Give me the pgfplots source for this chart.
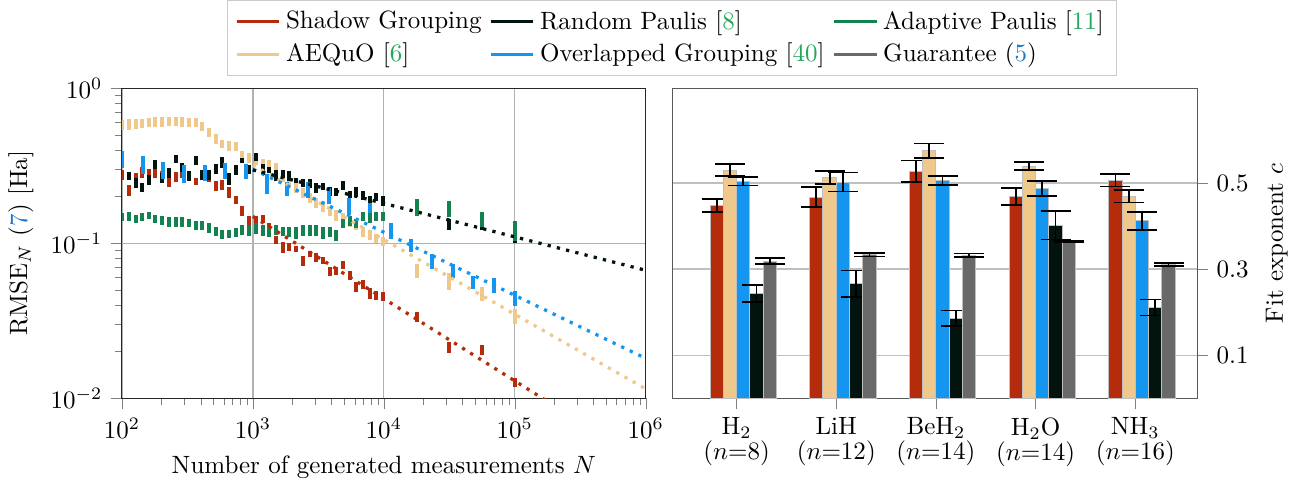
\documentclass[border=0pt]{standalone}
\usepackage{pgfplots}
\usepackage{pgfplotstable}
\pgfplotsset{compat=1.18}
\definecolor{cRed}{HTML}{B52C0D}
\definecolor{cBeige}{HTML}{EFC88C}
\definecolor{cBlue}{HTML}{1496F0}
\definecolor{cBlack}{HTML}{03130E}
\definecolor{cGray}{HTML}{696969}
\definecolor{cGreen}{HTML}{148250}
\definecolor{citeGreen}{HTML}{22A85A}
\definecolor{refBlue}{HTML}{1F78C8}

\pgfplotstableread{
N lo hi
100 0.535 0.621
113 0.535 0.630
127 0.543 0.630
142 0.551 0.630
160 0.559 0.640
180 0.559 0.650
203 0.563 0.650
228 0.567 0.650
257 0.567 0.650
289 0.563 0.650
325 0.563 0.645
365 0.559 0.640
411 0.527 0.603
462 0.482 0.551
520 0.434 0.504
585 0.410 0.461
658 0.392 0.454
741 0.392 0.447
833 0.343 0.392
937 0.3275 0.380
1054 0.318 0.369
1186 0.299 0.348
1335 0.295 0.343
1501 0.278 0.3275
1689 0.247 0.278
1900 0.2258 0.262
2138 0.2096 0.243
2405 0.1945 0.2258
2706 0.1806 0.2096
3044 0.170 0.197
3424 0.160 0.186
3852 0.149 0.172
4334 0.140 0.163
4876 0.1341 0.1556
5485 0.128 0.149
6171 0.121 0.140
6942 0.110 0.128
7810 0.1056 0.121
8786 0.1009 0.1155
9885 0.0967 0.110
17783 0.0600 0.0739
31623 0.0501 0.0647
56234 0.0426 0.0524
100000 0.0303 0.0378
}\beigetab

\pgfplotstableread{
N lo hi
100 0.254 0.295
113 0.203 0.236
127 0.247 0.282
142 0.265 0.308
160 0.262 0.299
180 0.265 0.304
203 0.254 0.291
228 0.232 0.282
257 0.247 0.286
289 0.262 0.304
325 0.254 0.282
365 0.236 0.265
411 0.254 0.295
462 0.247 0.278
520 0.216 0.2505
585 0.219 0.254
658 0.197 0.232
741 0.178 0.203
833 0.149 0.175
937 0.128 0.151
1054 0.1245 0.151
1186 0.1341 0.153
1335 0.121 0.136
1501 0.0996 0.112
1689 0.0870 0.1025
1900 0.0897 0.101
2138 0.0884 0.0967
2405 0.0717 0.0833
2706 0.0821 0.0897
3044 0.0761 0.0870
3424 0.0739 0.0821
3852 0.0618 0.0707
4334 0.0627 0.0707
4876 0.0686 0.0773
5485 0.0582 0.0666
6171 0.0487 0.0565
6942 0.0509 0.0582
7810 0.0439 0.0517
8786 0.0432 0.0495
9885 0.0426 0.0487
17783 0.0313 0.0363
31623 0.0197 0.0230
56234 0.0191 0.0222
100000 0.0118 0.0135
}\redtab

\pgfplotstableread{
N lo hi
113 0.254 0.286
127 0.2258 0.262
142 0.2127 0.243
160 0.239 0.274
180 0.299 0.343
203 0.243 0.282
228 0.262 0.304
257 0.3275 0.369
289 0.286 0.3275
325 0.2505 0.291
365 0.318 0.364
411 0.254 0.295
462 0.254 0.295
520 0.278 0.3226
585 0.304 0.358
658 0.239 0.282
741 0.274 0.318
833 0.3275 0.353
937 0.278 0.318
1054 0.337 0.380
1186 0.274 0.3226
1335 0.282 0.308
1501 0.2505 0.295
1689 0.262 0.295
1900 0.2505 0.291
2138 0.243 0.262
2405 0.232 0.258
2706 0.2258 0.258
3044 0.2096 0.243
3424 0.219 0.243
3852 0.203 0.232
4334 0.2004 0.2258
4876 0.219 0.2505
5485 0.1945 0.216
6171 0.200 0.229
6942 0.1888 0.216
7810 0.1806 0.2004
8786 0.186 0.2096
9885 0.175 0.2004
17783 0.149 0.172
31623 0.121 0.1444
56234 0.121 0.128
100000 0.101 0.112
}\blacktab

\pgfplotstableread{
N lo hi
100 0.140 0.1556
113 0.140 0.160
127 0.136 0.153
142 0.140 0.1556
160 0.1423 0.160
180 0.1341 0.153
203 0.132 0.151
228 0.128 0.1466
257 0.128 0.1466
289 0.128 0.1466
325 0.128 0.1444
365 0.1226 0.140
411 0.1226 0.140
462 0.1172 0.1341
520 0.112 0.128
585 0.1072 0.1226
658 0.1088 0.121
741 0.110 0.1245
833 0.1138 0.1302
937 0.112 0.1302
1054 0.1155 0.1341
1186 0.112 0.1302
1335 0.110 0.1264
1501 0.1138 0.1302
1689 0.112 0.128
1900 0.1102 0.128
2138 0.1072 0.1264
2405 0.112 0.1302
2706 0.112 0.1302
3044 0.112 0.1302
3424 0.1072 0.128
3852 0.110 0.128
4334 0.104 0.121
4876 0.1245 0.1444
5485 0.130 0.151
6171 0.1245 0.1444
6942 0.140 0.160
7810 0.1341 0.1556
8786 0.140 0.160
9885 0.140 0.160
17783 0.151 0.1916
31623 0.1466 0.186
56234 0.1264 0.160
100000 0.104 0.140
}\greentab

\pgfplotstableread{
N lo hi
100 0.304 0.392
143.8 0.278 0.364
206.9 0.258 0.3325
297.6 0.243 0.318
428.1 0.2505 0.318
615.8 0.258 0.3275
885.9 0.258 0.3226
1274 0.2065 0.278
1833 0.2004 0.247
2637 0.1945 0.247
3793 0.178 0.2258
5456 0.153 0.1945
7848 0.1423 0.1806
11288 0.1072 0.1341
16238 0.0884 0.1072
23357 0.0686 0.0858
33598 0.0600 0.0739
48329 0.0509 0.0618
69519 0.0480 0.0600
100000 0.0393 0.0490
}\bluetab

\pgfplotsset{
  errseg/.style={draw=none, mark=none, forget plot,
    error bars/y dir=plus, error bars/y explicit, error bars/error mark=none,
    error bars/error bar style={line width=1.6pt, draw=#1, solid}},
  fitline/.style={#1, line width=1.3pt, dash pattern=on 1.3pt off 2.5pt, forget plot},
  fitbar/.style={ybar, bar width=0.1333, bar shift=0pt, fill=#1, draw=black!25, line width=0.4pt,
    error bars/y dir=both, error bars/y explicit,
    error bars/error mark options={black, line width=0.7pt, mark size=6pt, rotate=90},
    error bars/error bar style={black, line width=0.7pt, solid}},
}

\begin{document}
\begin{tikzpicture}
\begin{axis}[
  width=209.4pt, height=124pt, scale only axis,
  xmode=log, ymode=log,
  xmin=100, xmax=1000000, ymin=0.01, ymax=1,
  xtick={100,1000,10000,100000,1000000},
  ytick={0.01,0.1,1},
  minor xtick={},
  tick align=outside, tick pos=left,
  grid=major, major grid style={black!30, line width=0.5pt},
  axis line style={black!85},
  xlabel={Number of generated measurements $N$},
  ylabel={RMSE$_N$ (\textcolor{refBlue}{7}) [Ha]},
  legend columns=3,
  legend cell align=left,
  legend style={at={(1.05,1.039)}, anchor=south, draw=black!20,
    /tikz/every even column/.append style={column sep=1pt}},
]
\addlegendimage{line legend, cRed, line width=1.3pt}
\addlegendentry{Shadow Grouping}
\addlegendimage{line legend, cBlack, line width=1.3pt}
\addlegendentry{Random Paulis [\textcolor{citeGreen}{8}]}
\addlegendimage{line legend, cGreen, line width=1.3pt}
\addlegendentry{Adaptive Paulis [\textcolor{citeGreen}{11}]}
\addlegendimage{line legend, cBeige, line width=1.3pt}
\addlegendentry{AEQuO [\textcolor{citeGreen}{6}]}
\addlegendimage{line legend, cBlue, line width=1.3pt}
\addlegendentry{Overlapped Grouping [\textcolor{citeGreen}{40}]}
\addlegendimage{line legend, cGray, line width=1.3pt}
\addlegendentry{Guarantee (\textcolor{refBlue}{5})}

\addplot[errseg=cRed] table[x=N, y=lo, y error plus expr=\thisrow{hi}-\thisrow{lo}] {\redtab};
\addplot[errseg=cBeige] table[x=N, y=lo, y error plus expr=\thisrow{hi}-\thisrow{lo}] {\beigetab};
\addplot[errseg=cBlack] table[x=N, y=lo, y error plus expr=\thisrow{hi}-\thisrow{lo}] {\blacktab};
\addplot[errseg=cBlue] table[x=N, y=lo, y error plus expr=\thisrow{hi}-\thisrow{lo}] {\bluetab};
\addplot[errseg=cGreen] table[x=N, y=lo, y error plus expr=\thisrow{hi}-\thisrow{lo}] {\greentab};

\addplot[fitline=cRed] coordinates {(1000,0.149) (1000000,0.00382)};
\addplot[fitline=cBeige] coordinates {(1000,0.320) (1000000,0.0115)};
\addplot[fitline=cBlue] coordinates {(1000,0.300) (1000000,0.0181)};
\addplot[fitline=cBlack] coordinates {(1000,0.297) (1000000,0.0669)};
\end{axis}

\begin{axis}[
  at={(220.2pt,0pt)}, anchor=south west,
  width=209.6pt, height=124pt, scale only axis,
  xmin=-0.64, xmax=4.62, ymin=0, ymax=0.72,
  xtick={0,1,2,3,4},
  xticklabels={{H$_2$\\[-2pt]($n{=}8$)},{LiH\\[-2pt]($n{=}12$)},{BeH$_2$\\[-2pt]($n{=}14$)},{H$_2$O\\[-2pt]($n{=}14$)},{NH$_3$\\[-2pt]($n{=}16$)}},
  xticklabel style={align=center},
  ytick={0.1,0.3,0.5},
  yticklabels={0.1,0.3,0.5},
  ymajorgrids, major grid style={black!25, line width=0.6pt},
  xtick pos=left, ytick pos=right, yticklabel pos=right,
  tick align=outside,
  axis line style={black!65},
  ylabel={Fit exponent $c$},
]
\addplot[fitbar=cRed] coordinates {
  (-0.2,0.448) +- (0,0.0155)
  (0.8,0.467) +- (0,0.0235)
  (1.8,0.527) +- (0,0.025)
  (2.8,0.468) +- (0,0.0195)
  (3.8,0.506) +- (0,0.0145)};
\addplot[fitbar=cBeige] coordinates {
  (-0.0667,0.530) +- (0,0.0145)
  (0.9333,0.513) +- (0,0.0155)
  (1.9333,0.575) +- (0,0.0165)
  (2.9333,0.539) +- (0,0.009)
  (3.9333,0.469) +- (0,0.0145)};
\addplot[fitbar=cBlue] coordinates {
  (0.0667,0.504) +- (0,0.010)
  (1.0667,0.502) +- (0,0.022)
  (2.0667,0.506) +- (0,0.011)
  (3.0667,0.487) +- (0,0.0175)
  (4.0667,0.412) +- (0,0.0205)};
\addplot[fitbar=cBlack] coordinates {
  (0.2,0.243) +- (0,0.0195)
  (1.2,0.266) +- (0,0.031)
  (2.2,0.186) +- (0,0.018)
  (3.2,0.402) +- (0,0.0335)
  (4.2,0.211) +- (0,0.0185)};
\addplot[fitbar=cGray] coordinates {
  (0.3333,0.318) +- (0,0.007)
  (1.3333,0.333) +- (0,0.004)
  (2.3333,0.332) +- (0,0.0045)
  (3.3333,0.363) +- (0,0.0015)
  (4.3333,0.310) +- (0,0.0035)};
\end{axis}
\end{tikzpicture}
\end{document}
